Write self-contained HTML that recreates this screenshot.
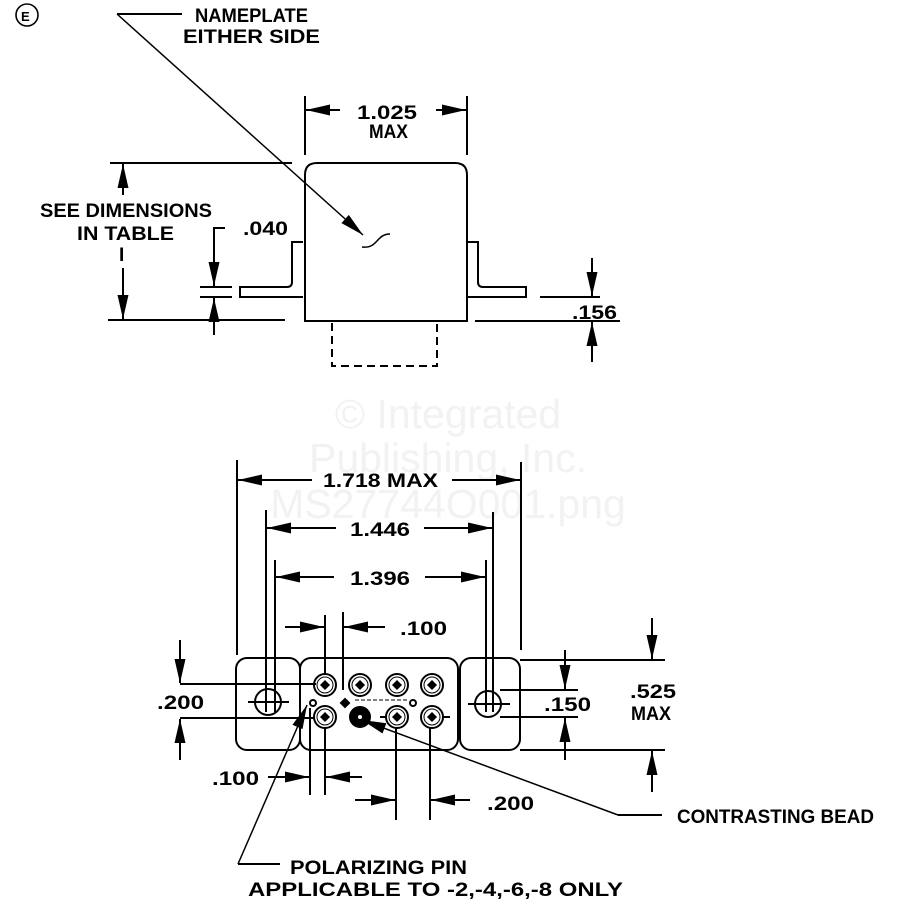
<!DOCTYPE html>
<html><head><meta charset="utf-8"><style>
html,body{margin:0;padding:0;background:#fff;}
svg{display:block;}
text{font-family:"Liberation Sans",sans-serif;font-weight:bold;font-size:19px;fill:#000;}
.wm{font-family:"Liberation Sans",sans-serif;font-weight:normal;font-size:41px;fill:#f2f2f2;}
</style></head><body>
<svg width="899" height="921" viewBox="0 0 899 921" xmlns="http://www.w3.org/2000/svg">
<defs>
<marker id="a" viewBox="0 0 10 10" refX="10" refY="5" markerWidth="24" markerHeight="11" markerUnits="userSpaceOnUse" orient="auto" preserveAspectRatio="none"><path d="M0,0 L10,5 L0,10 Z" fill="#000"/></marker>
<g id="pin"><circle r="11" fill="#fff" stroke="#000" stroke-width="2"/><circle r="8" fill="none" stroke="#000" stroke-width="1"/><path d="M0,-5 L5,0 L0,5 L-5,0 Z" fill="#000"/></g>
</defs>
<text class="wm" x="448" y="428" text-anchor="middle">© Integrated</text>
<text class="wm" x="448" y="472" text-anchor="middle">Publishing, Inc.</text>
<text class="wm" x="448" y="518" text-anchor="middle">MS27744O001.png</text>

<g stroke="#000" stroke-width="2" fill="none">
<circle cx="27" cy="15" r="11" stroke-width="1.6"/>
<line x1="117" y1="14" x2="182" y2="14"/>
<line x1="117" y1="14" x2="363" y2="235" stroke-width="1.5" marker-end="url(#a)"/>
<path d="M362,247 C378,249 376,234 390,234" stroke-width="1.5"/>
<path d="M305,321 L305,175 Q305,163 317,163 L455,163 Q467,163 467,175 L467,321 Z"/>
<path d="M303,242 L292,242 L292,282 Q292,287 287,287 L240,287 L240,297 L303,297"/>
<path d="M467,242 L478,242 L478,282 Q478,287 483,287 L526,287 L526,297 L467,297"/>
<path d="M332,323 L332,366 L437,366 L437,323" stroke-dasharray="8,5"/>
<line x1="305" y1="96" x2="305" y2="155"/>
<line x1="467" y1="96" x2="467" y2="155"/>
<line x1="340" y1="110" x2="306" y2="110" marker-end="url(#a)"/>
<line x1="436" y1="110" x2="466" y2="110" marker-end="url(#a)"/>
<line x1="110" y1="163" x2="292" y2="163"/>
<line x1="108" y1="320" x2="285" y2="320"/>
<line x1="123" y1="195" x2="123" y2="164" marker-end="url(#a)"/>
<line x1="123" y1="268" x2="123" y2="319" marker-end="url(#a)"/>
<path d="M225,228 L214,228 L214,255"/>
<line x1="214" y1="255" x2="214" y2="286" marker-end="url(#a)"/>
<line x1="200" y1="287" x2="232" y2="287"/>
<line x1="200" y1="297" x2="232" y2="297"/>
<line x1="214" y1="335" x2="214" y2="298" marker-end="url(#a)"/>
<line x1="540" y1="297" x2="600" y2="297"/>
<line x1="475" y1="321" x2="620" y2="321"/>
<line x1="592" y1="258" x2="592" y2="296" marker-end="url(#a)"/>
<line x1="592" y1="362" x2="592" y2="322" marker-end="url(#a)"/>

<line x1="237" y1="460" x2="237" y2="655"/>
<line x1="521" y1="462" x2="521" y2="650"/>
<line x1="312" y1="480" x2="238" y2="480" marker-end="url(#a)"/>
<line x1="452" y1="480" x2="520" y2="480" marker-end="url(#a)"/>
<line x1="266" y1="510" x2="266" y2="712"/>
<line x1="493" y1="512" x2="493" y2="712"/>
<line x1="336" y1="528" x2="267" y2="528" marker-end="url(#a)"/>
<line x1="424" y1="528" x2="492" y2="528" marker-end="url(#a)"/>
<line x1="275" y1="560" x2="275" y2="712"/>
<line x1="486" y1="560" x2="486" y2="712"/>
<line x1="334" y1="577" x2="276" y2="577" marker-end="url(#a)"/>
<line x1="425" y1="577" x2="485" y2="577" marker-end="url(#a)"/>

<rect x="236" y="658" width="64" height="92" rx="11"/>
<rect x="300" y="658" width="158" height="92" rx="11"/>
<rect x="460" y="658" width="60" height="92" rx="11"/>
<circle cx="268" cy="702" r="13"/>
<line x1="248" y1="702" x2="289" y2="702"/>
<circle cx="488" cy="704" r="13"/>
<line x1="468" y1="704" x2="510" y2="704"/>
</g>
<use href="#pin" x="325" y="685"/><use href="#pin" x="360" y="685"/><use href="#pin" x="397" y="685"/><use href="#pin" x="432" y="685"/>
<use href="#pin" x="325" y="717"/><use href="#pin" x="397" y="717"/><use href="#pin" x="432" y="717"/>
<g stroke="#000" stroke-width="2" fill="none">
<circle cx="313" cy="703" r="3"/><circle cx="413" cy="703" r="3"/>
<path d="M345,699 L349,703 L345,707 L341,703 Z" fill="#000"/>
<line x1="355" y1="700" x2="408" y2="700" stroke-width="1" stroke-dasharray="4,2"/>
<line x1="380" y1="717" x2="386" y2="717"/><line x1="443" y1="717" x2="450" y2="717"/>
<circle cx="360" cy="717" r="10" fill="#000"/>
<circle cx="360" cy="717" r="2" fill="#fff" stroke="none"/>

<line x1="325" y1="615" x2="325" y2="674"/>
<line x1="343" y1="612" x2="343" y2="690"/>
<line x1="285" y1="627" x2="324" y2="627" marker-end="url(#a)"/>
<line x1="385" y1="627" x2="344" y2="627" marker-end="url(#a)"/>
<line x1="180" y1="684" x2="316" y2="684"/>
<line x1="180" y1="718" x2="314" y2="718"/>
<line x1="180" y1="640" x2="180" y2="683" marker-end="url(#a)"/>
<line x1="180" y1="760" x2="180" y2="719" marker-end="url(#a)"/>
<line x1="500" y1="690" x2="578" y2="690"/>
<line x1="500" y1="717" x2="578" y2="717"/>
<line x1="565" y1="650" x2="565" y2="689" marker-end="url(#a)"/>
<line x1="565" y1="760" x2="565" y2="718" marker-end="url(#a)"/>
<line x1="520" y1="660" x2="665" y2="660"/>
<line x1="520" y1="750" x2="665" y2="750"/>
<line x1="652" y1="618" x2="652" y2="659" marker-end="url(#a)"/>
<line x1="652" y1="792" x2="652" y2="751" marker-end="url(#a)"/>
<line x1="310" y1="708" x2="310" y2="795"/>
<line x1="325" y1="728" x2="325" y2="795"/>
<line x1="268" y1="777" x2="309" y2="777" marker-end="url(#a)"/>
<line x1="362" y1="777" x2="326" y2="777" marker-end="url(#a)"/>
<line x1="396" y1="728" x2="396" y2="820"/>
<line x1="430" y1="728" x2="430" y2="820"/>
<line x1="355" y1="800" x2="395" y2="800" marker-end="url(#a)"/>
<line x1="470" y1="800" x2="431" y2="800" marker-end="url(#a)"/>
<path d="M618,815 L662,815" />
<line x1="618" y1="815" x2="362" y2="720" stroke-width="1.5" marker-end="url(#a)"/>
<line x1="280" y1="864" x2="238" y2="864"/>
<line x1="238" y1="864" x2="307" y2="705" stroke-width="1.5" marker-end="url(#a)"/>
</g>

<g>
<text x="195" y="22" textLength="113" lengthAdjust="spacingAndGlyphs">NAMEPLATE</text>
<text x="183" y="43" textLength="137" lengthAdjust="spacingAndGlyphs">EITHER SIDE</text>
<text x="357" y="119" textLength="60" lengthAdjust="spacingAndGlyphs">1.025</text>
<text x="369" y="138" textLength="39" lengthAdjust="spacingAndGlyphs">MAX</text>
<text x="40" y="217" textLength="172" lengthAdjust="spacingAndGlyphs">SEE DIMENSIONS</text>
<text x="77" y="240" textLength="97" lengthAdjust="spacingAndGlyphs">IN TABLE</text>
<text x="119" y="261">I</text>
<text x="243" y="235" textLength="45" lengthAdjust="spacingAndGlyphs">.040</text>
<text x="572" y="319" textLength="45" lengthAdjust="spacingAndGlyphs">.156</text>
<text x="323" y="487" textLength="115" lengthAdjust="spacingAndGlyphs">1.718 MAX</text>
<text x="350" y="536" textLength="60" lengthAdjust="spacingAndGlyphs">1.446</text>
<text x="350" y="585" textLength="60" lengthAdjust="spacingAndGlyphs">1.396</text>
<text x="400" y="635" textLength="47" lengthAdjust="spacingAndGlyphs">.100</text>
<text x="157" y="709" textLength="47" lengthAdjust="spacingAndGlyphs">.200</text>
<text x="544" y="711" textLength="47" lengthAdjust="spacingAndGlyphs">.150</text>
<text x="630" y="698" textLength="46" lengthAdjust="spacingAndGlyphs">.525</text>
<text x="631" y="720" textLength="40" lengthAdjust="spacingAndGlyphs">MAX</text>
<text x="212" y="785" textLength="47" lengthAdjust="spacingAndGlyphs">.100</text>
<text x="487" y="810" textLength="47" lengthAdjust="spacingAndGlyphs">.200</text>
<text x="677" y="823" textLength="197" lengthAdjust="spacingAndGlyphs">CONTRASTING BEAD</text>
<text x="290" y="874" textLength="177" lengthAdjust="spacingAndGlyphs">POLARIZING PIN</text>
<text x="248" y="896" textLength="375" lengthAdjust="spacingAndGlyphs">APPLICABLE TO -2,-4,-6,-8 ONLY</text>
<text x="21" y="21" style="font-size:13px">E</text>
</g>
</svg>
</body></html>
